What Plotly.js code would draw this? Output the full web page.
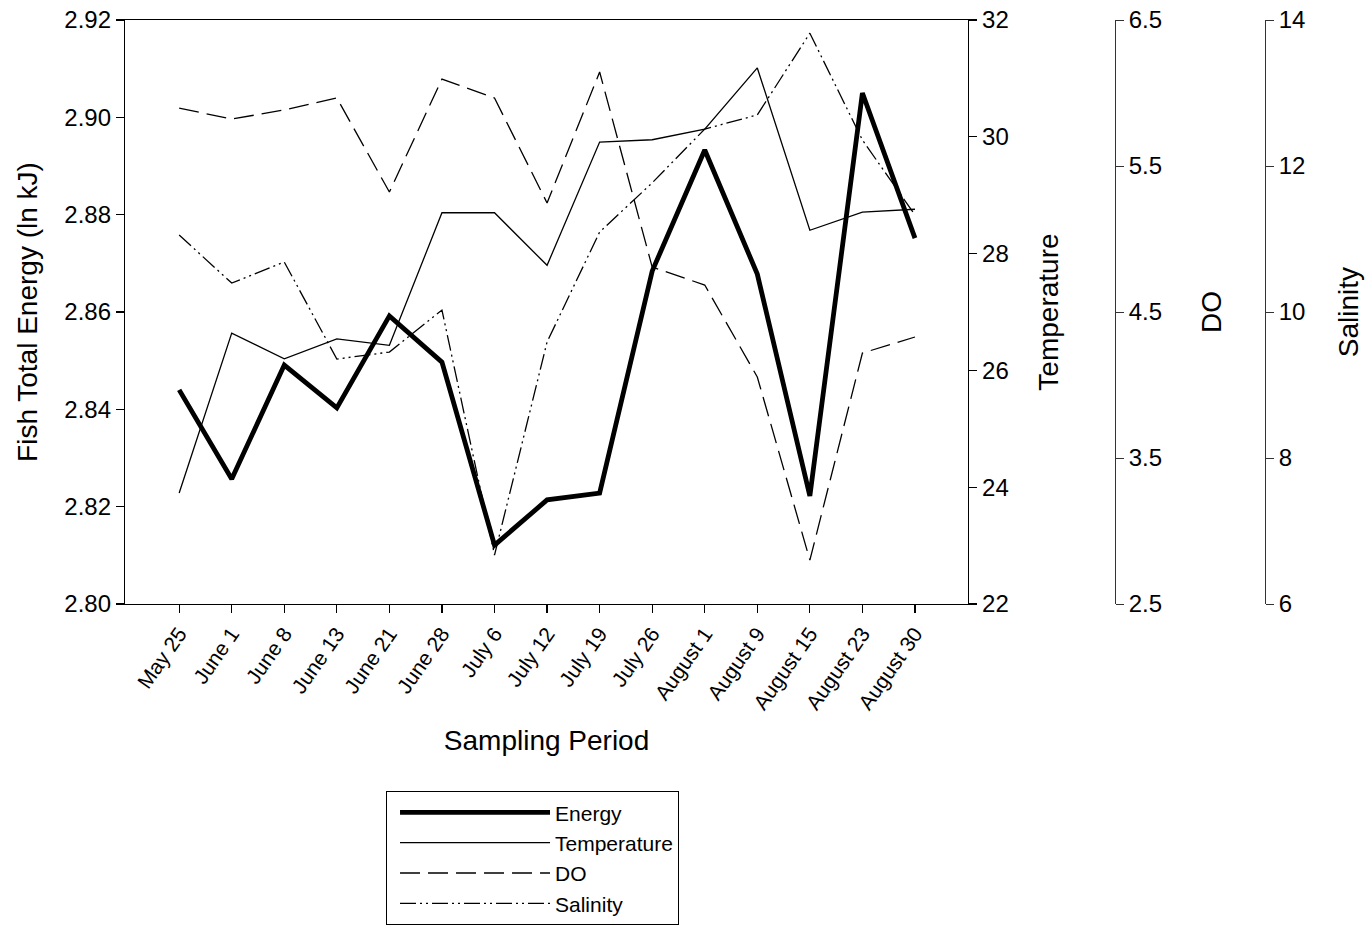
<!DOCTYPE html>
<html>
<head>
<meta charset="utf-8">
<script src="https://cdn.plot.ly/plotly-3.0.1.min.js"></script>
<style>
  html, body { margin: 0; padding: 0; background: #ffffff; }
  #chart { width: 1365px; height: 932px; }
</style>
</head>
<body>
<div id="chart"></div>
<script>
// Sampling dates
const categories = ['May 25', 'June 1', 'June 8', 'June 13', 'June 21', 'June 28', 'July 6',
  'July 12', 'July 19', 'July 26', 'August 1', 'August 9', 'August 15', 'August 23', 'August 30'];

// Fish total energy (ln kJ)
const energy = [2.8440, 2.8257, 2.8491, 2.8403, 2.8592, 2.8497, 2.8121,
  2.8214, 2.8228, 2.8684, 2.8933, 2.8678, 2.8222, 2.9050, 2.8752];

// Water temperature
const temperature = [23.90, 26.64, 26.20, 26.54, 26.43, 28.70, 28.70,
  27.80, 29.91, 29.95, 30.13, 31.18, 28.40, 28.71, 28.76];

// Dissolved oxygen
const dissolvedOxygen = [5.897, 5.822, 5.884, 5.966, 5.322, 6.096, 5.966,
  5.247, 6.144, 4.808, 4.685, 4.055, 2.801, 4.219, 4.329];

// Salinity
const salinity = [11.055, 10.397, 10.685, 9.356, 9.452, 10.027, 6.671,
  9.590, 11.096, 11.770, 12.507, 12.700, 13.820, 12.356, 11.330];

const FONT = 'Liberation Sans, Arial, Helvetica, sans-serif';
const TICK_SIZE = 24;
const TITLE_SIZE = 28;

const traces = [
  { x: categories, y: energy, name: 'Energy', type: 'scatter', mode: 'lines',
    yaxis: 'y', line: { color: '#000000', width: 4.8 } },
  { x: categories, y: temperature, name: 'Temperature', type: 'scatter', mode: 'lines',
    yaxis: 'y2', line: { color: '#000000', width: 1.3 } },
  { x: categories, y: dissolvedOxygen, name: 'DO', type: 'scatter', mode: 'lines',
    yaxis: 'y3', line: { color: '#000000', width: 1.3, dash: '20px,8px' } },
  { x: categories, y: salinity, name: 'Salinity', type: 'scatter', mode: 'lines',
    yaxis: 'y4', line: { color: '#000000', width: 1.3, dash: '16px,4px,2px,4px,2px,4px' } }
];

const axisBase = {
  showline: true, linecolor: '#000000', linewidth: 1.2,
  ticks: 'outside', ticklen: 8, tickwidth: 1.2, tickcolor: '#000000',
  showgrid: false, zeroline: false,
  tickfont: { family: FONT, size: TICK_SIZE, color: '#000000' }
};

const layout = {
  width: 1365, height: 932,
  margin: { l: 0, r: 0, t: 0, b: 0 },
  paper_bgcolor: '#ffffff', plot_bgcolor: '#ffffff',
  font: { family: FONT, color: '#000000' },
  showlegend: true,
  legend: {
    x: 0.2828, y: 0.1510, xanchor: 'left', yanchor: 'top',
    bordercolor: '#000000', borderwidth: 1, bgcolor: '#ffffff',
    font: { family: FONT, size: 21, color: '#000000' },
    itemwidth: 150, indentation: 8, tracegroupgap: 0
  },
  xaxis: Object.assign({}, axisBase, {
    domain: [0.0916, 0.7092],
    type: 'category', categoryarray: categories,
    range: [-1.03, 15.01], mirror: true,
    tickangle: -55,
    tickfont: { family: FONT, size: 21, color: '#000000' },
    title: { text: 'Sampling Period', font: { family: FONT, size: TITLE_SIZE }, standoff: 17 }
  }),
  yaxis: Object.assign({}, axisBase, {
    domain: [0.3519, 0.9785],
    range: [2.80, 2.92], dtick: 0.02, tick0: 2.80, tickformat: '.2f',
    title: { text: 'Fish Total Energy (ln kJ)', font: { family: FONT, size: TITLE_SIZE }, standoff: 18 }
  }),
  yaxis2: Object.assign({}, axisBase, {
    overlaying: 'y', side: 'right', anchor: 'x',
    range: [22, 32], dtick: 2, tick0: 22,
    title: { text: 'Temperature', font: { family: FONT, size: TITLE_SIZE }, standoff: 30 }
  }),
  yaxis3: Object.assign({}, axisBase, {
    overlaying: 'y', side: 'right', anchor: 'free', position: 0.8168,
    linewidth: 1, tickwidth: 1, linecolor: '#333333', tickcolor: '#333333',
    range: [2.5, 6.5], dtick: 1, tick0: 2.5, tickformat: '.1f',
    title: { text: 'DO', font: { family: FONT, size: TITLE_SIZE }, standoff: 40 }
  }),
  yaxis4: Object.assign({}, axisBase, {
    overlaying: 'y', side: 'right', anchor: 'free', position: 0.9267,
    linewidth: 1, tickwidth: 1, linecolor: '#333333', tickcolor: '#333333',
    range: [6, 14], dtick: 2, tick0: 6,
    title: { text: 'Salinity', font: { family: FONT, size: TITLE_SIZE }, standoff: 33 }
  })
};

Plotly.newPlot('chart', traces, layout, { displayModeBar: false, staticPlot: true });
</script>
</body>
</html>
